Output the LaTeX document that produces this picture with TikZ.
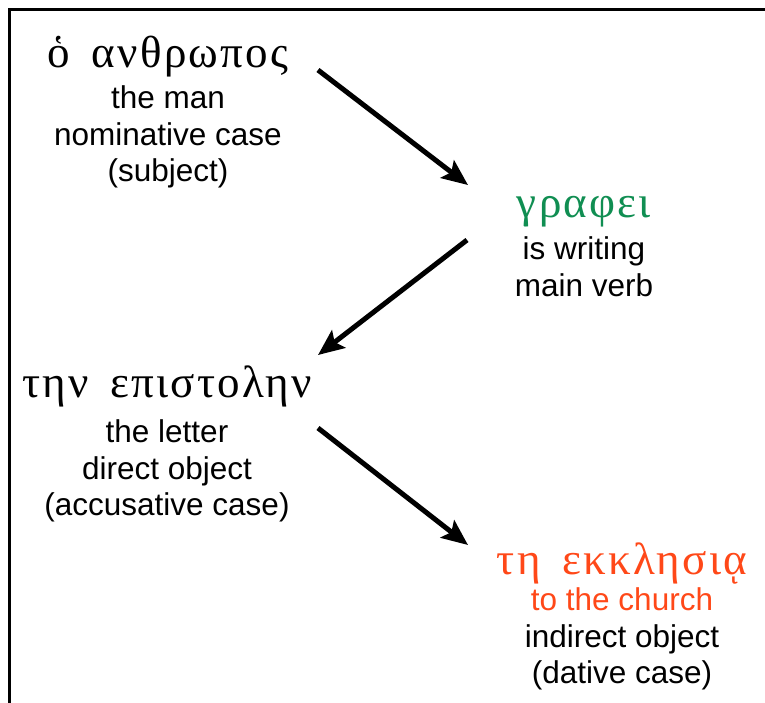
\documentclass[tikz,border=0pt]{standalone}
\usepackage{fontspec}
\setmainfont{Liberation Sans}
\newfontfamily\greekfont[LetterSpace=5,WordSpace=1.6]{Liberation Serif}
\usetikzlibrary{positioning,arrows.meta}
\definecolor{verbgreen}{RGB}{16,142,82}
\definecolor{dativered}{RGB}{255,72,24}

\begin{document}
\begin{tikzpicture}[x=1pt,y=-1pt,
    greek/.style={inner sep=0pt,font=\greekfont\fontsize{45}{45}\selectfont},
    gloss/.style={inner sep=0pt,align=center,font=\fontsize{31.5}{36.5}\selectfont},
    arrow/.style={line width=5pt,-{Stealth[length=26pt,width=22pt,inset=5pt]}}]
  \useasboundingbox (0,0) rectangle (765,702);
  \clip (0,0) rectangle (765,702);
  \draw[line width=2.5pt] (9.5,9.5) rectangle (800,760);

  % subject
  \node[greek,anchor=base] (anthropos) at (168,67) {ὁ ανθρωπος};
  \node[gloss,below=9pt of anthropos] (anthroposgl) {the man\\nominative case\\(subject)};
  % verb
  \node[greek,anchor=base,text=verbgreen] (grafei) at (584,217) {γραφει};
  \node[gloss,below=10pt of grafei] (grafeigl) {is writing\\main verb};
  % direct object
  \node[greek,anchor=base] (epistolen) at (167,397) {την επιστολην};
  \node[gloss,below=13pt of epistolen] (epistolengl) {the letter\\direct object\\(accusative case)};
  % indirect object
  \node[greek,anchor=base,text=dativered] (ekklesia) at (622,574) {τη εκκλησιᾳ};
  \node[gloss,below=4pt of ekklesia] (ekklesiagl) {\textcolor{dativered}{to the church}\\indirect object\\(dative case)};

  \coordinate (a1s) at (318,70);
  \coordinate (a1e) at (468,185);
  \coordinate (a2s) at (467,240);
  \coordinate (a2e) at (318,355);
  \coordinate (a3s) at (318,428);
  \coordinate (a3e) at (468,545);

  \draw[arrow] (a1s) -- (a1e);
  \draw[arrow] (a2s) -- (a2e);
  \draw[arrow] (a3s) -- (a3e);
\end{tikzpicture}
\end{document}
